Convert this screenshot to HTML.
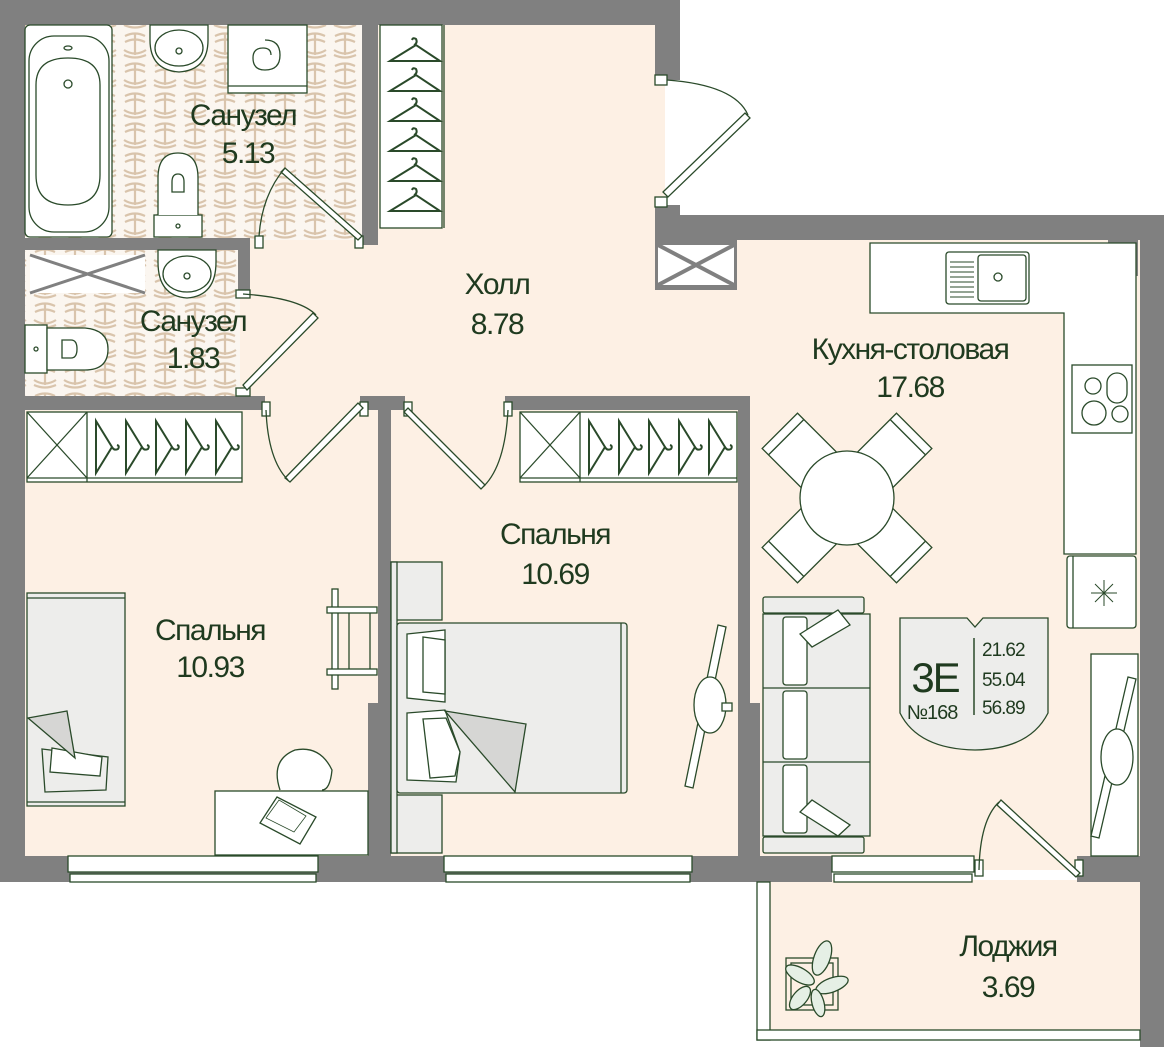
<!DOCTYPE html>
<html><head><meta charset="utf-8"><style>
html,body{margin:0;padding:0;background:#fff;}
svg{display:block;}
text{font-family:"Liberation Sans",sans-serif;fill:#1f3a1f;}
</style></head><body>
<svg width="1164" height="1047" viewBox="0 0 1164 1047" xmlns="http://www.w3.org/2000/svg">
<defs>
<pattern id="tile" width="30" height="30" patternUnits="userSpaceOnUse">
<rect width="30" height="30" fill="#fbf6f0"/>
<path d="M5 6 q10 -5 20 0 M5 12 q10 -5 20 0 M15 3 v22 M4 20 q11 7 22 0 M4 25 q11 5 22 0" stroke="#d9c4ac" stroke-width="2.2" fill="none"/>
</pattern>
<g id="hv"><path d="M0 0 q4 -2 2 -6 q-3 -2 -4 1 M2 0 L-24 16 L26 16 Z" fill="none" stroke="#2a4a2a" stroke-width="2"/></g>
<g id="hh"><path d="M0 0 q2 4 6 2 q2 -3 -1 -4 M0 0 L-16 -26 L-16 26 Z" fill="none" stroke="#2a4a2a" stroke-width="2"/></g>
</defs>
<g stroke="none">
<rect x="25" y="25" width="640" height="840" fill="#fdf0e4"/>
<rect x="660" y="240" width="490" height="630" fill="#fdf0e4"/>
<rect x="760" y="880" width="385" height="155" fill="#fdf0e4"/>
<rect x="25" y="25" width="338" height="215" fill="url(#tile)"/>
<rect x="25" y="248" width="215" height="150" fill="url(#tile)"/>
</g>
<g fill="#808080">
<rect x="0" y="0" width="680" height="25"/>
<rect x="655" y="0" width="25" height="80"/>
<rect x="655" y="205" width="25" height="35"/>
<rect x="655" y="215" width="509" height="25"/>
<rect x="1140" y="215" width="24" height="832"/>
<rect x="0" y="0" width="25" height="882"/>
<rect x="362" y="25" width="16" height="220"/>
<rect x="25" y="238" width="225" height="12"/>
<rect x="238" y="238" width="12" height="55"/>
<rect x="238" y="392" width="12" height="18"/>
<rect x="25" y="396" width="240" height="14"/>
<rect x="360" y="396" width="45" height="14"/>
<rect x="505" y="396" width="245" height="14"/>
<rect x="378" y="396" width="13" height="470"/>
<rect x="368" y="703" width="23" height="163"/>
<rect x="738" y="396" width="12" height="470"/>
<rect x="738" y="703" width="22" height="163"/>
<rect x="0" y="856" width="760" height="26"/>
<rect x="740" y="856" width="92" height="26"/>
<rect x="1077" y="856" width="87" height="26"/>
<rect x="655" y="240" width="82" height="50"/>
<rect x="1108" y="240" width="30" height="36"/>
</g>
<g fill="#fff" stroke="#2a4a2a" stroke-width="1.3">
<rect x="658" y="245" width="76" height="40" fill="#fff" stroke="none"/>
<path d="M658 245 L734 285 M734 245 L658 285" stroke="#808080" stroke-width="4"/>
<rect x="1112" y="244" width="23" height="28" stroke="none"/>
<path d="M1112 244 L1135 272 M1135 244 L1112 272" stroke="#808080" stroke-width="3"/>
<rect x="30" y="255" width="115" height="38" stroke="none"/>
<path d="M30 255 L145 293 M145 255 L30 293" stroke="#808080" stroke-width="3"/>
<rect x="68" y="856" width="250" height="16"/><rect x="70" y="874" width="246" height="8"/>
<rect x="444" y="856" width="248" height="16"/><rect x="446" y="874" width="244" height="8"/>
<rect x="832" y="856" width="142" height="16"/><rect x="834" y="874" width="138" height="8"/>
<rect x="757" y="882" width="13" height="158"/>
<rect x="757" y="1030" width="383" height="10"/>
<rect x="25" y="25" width="87" height="212" rx="5"/>
<rect x="29" y="36" width="80" height="196" rx="25"/>
<path d="M36 85 Q36 58 68 58 Q100 58 100 85 L100 175 Q100 205 68 205 Q36 205 36 175 Z"/>
<circle cx="68" cy="84" r="4"/><ellipse cx="68" cy="48" rx="4" ry="2"/>
<path d="M150 25 L208 25 L208 40 Q208 70 179 72 Q150 70 150 40 Z"/><ellipse cx="179" cy="48" rx="24" ry="18"/><circle cx="179" cy="51" r="3"/>
<path d="M158 250 L216 250 L216 262 Q216 296 187 298 Q158 296 158 262 Z"/><ellipse cx="187" cy="274" rx="24" ry="18"/><circle cx="187" cy="276" r="3"/>
<rect x="228" y="25" width="79" height="68"/><line x1="228" y1="86" x2="307" y2="86"/>
<path d="M265 40 q15 0 15 15 q0 15 -15 15 q-12 0 -12 -12 q0 -10 10 -10 q8 0 8 7" fill="none"/>
<rect x="154" y="215" width="48" height="22"/><circle cx="178" cy="226" r="2"/>
<path d="M158 215 L158 178 Q158 153 178 153 Q198 153 198 178 L198 215"/><path d="M172 182 q0 -8 6 -8 q6 0 6 8 v10 h-12 z"/>
<rect x="25" y="325" width="22" height="48"/><circle cx="36" cy="349" r="2"/>
<path d="M47 328 L85 328 Q108 330 108 349 Q108 370 85 370 L47 370 Z"/><path d="M62 340 h9 q6 0 6 9 q0 9 -6 9 h-9 z"/>
<rect x="380" y="25" width="62" height="203"/><line x1="444" y1="25" x2="444" y2="228"/>
<rect x="27" y="412" width="215" height="70"/><line x1="27" y1="478" x2="242" y2="478"/>
<line x1="27" y1="412" x2="87" y2="478"/><line x1="87" y1="412" x2="27" y2="478"/><line x1="87" y1="412" x2="87" y2="482"/>
<rect x="520" y="412" width="217" height="70"/><line x1="520" y1="478" x2="737" y2="478"/>
<line x1="520" y1="412" x2="580" y2="478"/><line x1="580" y1="412" x2="520" y2="478"/><line x1="580" y1="412" x2="580" y2="482"/>
<path d="M870 243 L1136 243 L1136 554 L1064 554 L1064 313 L870 313 Z"/>
<rect x="946" y="252" width="83" height="52" rx="3"/><rect x="978" y="255" width="48" height="46" rx="3"/><circle cx="998" cy="277" r="4"/>
<path d="M950 262 h24 M950 267 h24 M950 272 h24 M950 277 h24 M950 282 h24 M950 287 h24 M950 292 h24 M950 297 h24" stroke-width="1"/>
<rect x="1072" y="365" width="60" height="68"/>
<circle cx="1093" cy="386" r="8"/><rect x="1107" y="373" width="20" height="30" rx="10"/><circle cx="1094" cy="413" r="12"/><circle cx="1120" cy="414" r="8"/>
<rect x="1067" y="556" width="69" height="72" rx="3"/><line x1="1073" y1="556" x2="1073" y2="628"/>
<path d="M1104 580 v26 M1091 593 h26 M1095 584 l18 18 M1113 584 l-18 18" stroke-width="1"/>
<g transform="translate(847,498)">
<g transform="rotate(-45)"><rect x="-25" y="-95" width="50" height="55"/><line x1="-25" y1="-86" x2="25" y2="-86"/></g>
<g transform="rotate(45)"><rect x="-25" y="-95" width="50" height="55"/><line x1="-25" y1="-86" x2="25" y2="-86"/></g>
<g transform="rotate(135)"><rect x="-25" y="-95" width="50" height="55"/><line x1="-25" y1="-86" x2="25" y2="-86"/></g>
<g transform="rotate(-135)"><rect x="-25" y="-95" width="50" height="55"/><line x1="-25" y1="-86" x2="25" y2="-86"/></g>
<circle r="47"/>
</g>
<rect x="763" y="597" width="101" height="16" rx="2" fill="#ededeb"/>
<rect x="763" y="837" width="101" height="16" rx="2" fill="#ededeb"/>
<rect x="763" y="614" width="107" height="222" fill="#ededeb"/>
<line x1="763" y1="688" x2="870" y2="688"/><line x1="763" y1="762" x2="870" y2="762"/>
<rect x="783" y="617" width="24" height="68" rx="3"/><rect x="783" y="691" width="24" height="68" rx="3"/><rect x="783" y="765" width="24" height="68" rx="3"/>
<path d="M800 634 L838 610 L850 625 L812 647 Z"/><path d="M800 812 L838 836 L850 825 L812 800 Z"/>
<rect x="27" y="593" width="98" height="213" fill="#ededeb"/><line x1="27" y1="598" x2="125" y2="598"/><line x1="27" y1="802" x2="125" y2="802"/>
<path d="M42 749 L108 757 L106 790 L45 792 Z" fill="#ededeb"/>
<path d="M52 748 L102 757 L100 776 L50 772 Z"/>
<path d="M28 718 L67 711 L75 758 Z" fill="#d6d6d4"/>
<rect x="332" y="589" width="6" height="100"/><rect x="327" y="607" width="50" height="6"/><rect x="327" y="669" width="50" height="6"/>
<line x1="349" y1="613" x2="349" y2="669"/><line x1="370" y1="613" x2="370" y2="669"/>
<rect x="215" y="791" width="153" height="64"/>
<path d="M280 790 Q270 760 295 750 Q320 745 332 770 Q330 790 322 790"/>
<path d="M260 823 L277 797 L316 817 L300 844 Z"/><path d="M266 818 L279 800 L306 816 L294 832 Z" stroke-width="0.8"/>
<rect x="391" y="562" width="51" height="58" fill="#ededeb"/><rect x="391" y="795" width="51" height="58" fill="#ededeb"/>
<rect x="391" y="562" width="6" height="291" fill="#ededeb"/>
<rect x="397" y="623" width="230" height="170" rx="3" fill="#ededeb"/><line x1="621" y1="623" x2="621" y2="793"/>
<path d="M407 634 L445 630 L445 702 L407 698 Z"/><path d="M423 637 L445 640 L445 694 L423 692 Z"/>
<path d="M407 713 L445 710 L460 752 L456 782 L407 780 Z"/><path d="M423 719 L446 718 L460 752 L455 776 L430 778 Z"/>
<path d="M445 711 L526 724 L515 792 Z" fill="#d6d6d4"/>
<path d="M718 625 L726 627 L693 788 L685 786 Z"/><ellipse cx="710" cy="705" rx="16" ry="28"/><rect x="722" y="703" width="10" height="8"/>
<rect x="1091" y="654" width="47" height="202"/>
<path d="M1128 677 L1136 679 L1099 838 L1091 836 Z"/><ellipse cx="1117" cy="757" rx="16" ry="28"/>
<rect x="655" y="75" width="12" height="10"/><rect x="655" y="197" width="12" height="10"/>
<rect x="255" y="236" width="8" height="12"/><rect x="355" y="236" width="8" height="12"/>
<rect x="236" y="290" width="14" height="8"/><rect x="236" y="388" width="14" height="8"/>
<rect x="262" y="402" width="8" height="14"/><rect x="360" y="402" width="8" height="14"/>
<rect x="404" y="402" width="8" height="14"/><rect x="504" y="402" width="8" height="14"/>
<rect x="975" y="860" width="8" height="16"/><rect x="1075" y="860" width="8" height="16"/>
<path d="M663 192 L745 113 L750 118 L668 197 Z"/><path d="M667 80 Q735 85 748 115" fill="none"/>
<path d="M285 168 L362 236 L358 240 L281 172 Z"/><path d="M259 236 Q262 195 285 168" fill="none"/>
<path d="M247 390 L318 318 L313 313 L243 385 Z"/><path d="M243 294 Q300 298 316 315" fill="none"/>
<path d="M363 408 L290 482 L285 478 L358 403 Z"/><path d="M266 410 Q268 460 288 480" fill="none"/>
<path d="M408 408 L485 485 L481 489 L404 412 Z"/><path d="M508 410 Q505 465 484 486" fill="none"/>
<path d="M1001 800 L1080 873 L1076 877 L997 805 Z"/><path d="M979 870 Q980 820 999 802" fill="none"/>
<path d="M900 618 L967 618 L975 627 L983 618 L1048 618 L1048 713 Q1030 749 975 750 Q918 749 900 713 Z" fill="#ededeb" stroke="#2a4a2a"/>
<line x1="974" y1="638" x2="974" y2="715" stroke-width="1.5"/>
<rect x="786" y="958" width="52" height="52" fill="none"/><rect x="791" y="963" width="42" height="42" fill="none"/>
<g fill="#e5efe5">
<ellipse cx="822" cy="958" rx="8" ry="18" transform="rotate(20 822 958)"/>
<ellipse cx="800" cy="975" rx="7" ry="16" transform="rotate(-60 800 975)"/>
<ellipse cx="832" cy="985" rx="7" ry="17" transform="rotate(70 832 985)"/>
<ellipse cx="800" cy="998" rx="7" ry="14" transform="rotate(40 800 998)"/>
<ellipse cx="818" cy="1003" rx="6" ry="14" transform="rotate(-15 818 1003)"/>
</g>
</g>
<g>
<use href="#hv" x="414" y="45"/><use href="#hv" x="414" y="75"/><use href="#hv" x="414" y="105"/>
<use href="#hv" x="414" y="135"/><use href="#hv" x="414" y="165"/><use href="#hv" x="414" y="195"/>
<use href="#hh" x="112" y="447"/><use href="#hh" x="142" y="447"/><use href="#hh" x="172" y="447"/><use href="#hh" x="202" y="447"/><use href="#hh" x="232" y="447"/>
<use href="#hh" x="605" y="447"/><use href="#hh" x="635" y="447"/><use href="#hh" x="665" y="447"/><use href="#hh" x="695" y="447"/><use href="#hh" x="725" y="447"/>
</g>
<g font-size="30" text-anchor="middle" letter-spacing="-1.5">
<text x="243" y="125">Санузел</text><text x="248" y="163">5.13</text>
<text x="193" y="331">Санузел</text><text x="193" y="368">1.83</text>
<text x="497" y="294">Холл</text><text x="497" y="334">8.78</text>
<text x="910" y="359">Кухня-столовая</text><text x="910" y="397">17.68</text>
<text x="555" y="544">Спальня</text><text x="555" y="584">10.69</text>
<text x="210" y="640">Спальня</text><text x="210" y="677">10.93</text>
<text x="1008" y="956">Лоджия</text><text x="1008" y="997">3.69</text>
</g>
<text x="935" y="692" font-size="42" text-anchor="middle" letter-spacing="-2">3Е</text>
<text x="932" y="719" font-size="20" text-anchor="middle" letter-spacing="-1">№168</text>
<g font-size="19" letter-spacing="-1">
<text x="982" y="656">21.62</text><text x="982" y="686">55.04</text><text x="982" y="714">56.89</text>
</g>
</svg>
</body></html>
